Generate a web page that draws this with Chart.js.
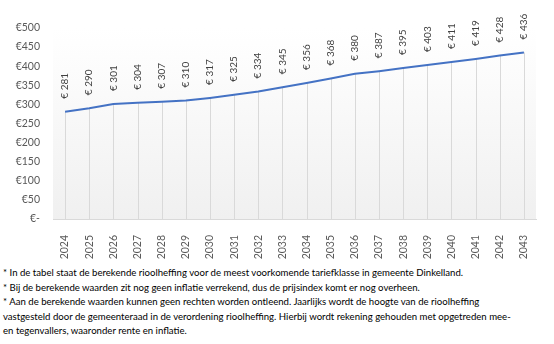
<!DOCTYPE html>
<html>
<head>
<meta charset="utf-8">
<script src="https://cdn.jsdelivr.net/npm/chart.js@4"></script>
<style>
  body { margin: 0; background: #fff; }
  #wrap { position: absolute; left: 0; top: 0; width: 554px; height: 262px; }
  .notes {
    position: absolute;
    left: 3px;
    top: 266px;
    font-family: Lato, sans-serif;
    font-size: 9.6px;
    color: #000;
    line-height: 14.5px;
    white-space: nowrap;
  }
</style>
</head>
<body>
<div id="wrap"><canvas id="myChart"></canvas></div>
<div class="notes">
  * In de tabel staat de berekende rioolheffing voor de meest voorkomende tariefklasse in gemeente Dinkelland.<br>
  * Bij de berekende waarden zit nog geen inflatie verrekend, dus de prijsindex komt er nog overheen.<br>
  * Aan de berekende waarden kunnen geen rechten worden ontleend. Jaarlijks wordt de hoogte van de rioolheffing<br>
  vastgesteld door de gemeenteraad in de verordening rioolheffing. Hierbij wordt rekening gehouden met opgetreden mee-<br>
  en tegenvallers, waaronder rente en inflatie.
</div>
<script>
const years = ["2024", "2025", "2026", "2027", "2028", "2029", "2030", "2031", "2032", "2033",
  "2034", "2035", "2036", "2037", "2038", "2039", "2040", "2041", "2042", "2043"];
const heffing = [281, 290, 301, 304, 307, 310, 317, 325, 334, 345,
  356, 368, 380, 387, 395, 403, 411, 419, 428, 436];
const yMax = 500;
const yStep = 50;

const ctx = document.getElementById("myChart");

// plot area background, light gray fading to white at the top
const plotBackground = {
  id: "plotBackground",
  beforeDraw(chart) {
    const a = chart.chartArea;
    const c = chart.ctx;
    const g = c.createLinearGradient(0, a.top, 0, a.bottom);
    g.addColorStop(0, "rgba(255,255,255,1)");
    g.addColorStop(0.15, "rgba(253,253,253,1)");
    g.addColorStop(1, "rgba(240,240,240,1)");
    c.save();
    c.fillStyle = g;
    c.fillRect(a.left, a.top, a.right - a.left, a.bottom - a.top);
    c.restore();
  },
};

// vertical drop lines from every point down to the axis
const dropLines = {
  id: "dropLines",
  beforeDatasetsDraw(chart) {
    const c = chart.ctx;
    const bottom = chart.scales.y.getPixelForValue(0);
    c.save();
    c.strokeStyle = "#d9d9d9";
    c.lineWidth = 1;
    chart.getDatasetMeta(0).data.forEach((p) => {
      const x = Math.round(p.x) + 0.5;
      c.beginPath();
      c.moveTo(x, p.y);
      c.lineTo(x, bottom);
      c.stroke();
    });
    c.restore();
  },
};

// rotated value labels above the points
const valueLabels = {
  id: "valueLabels",
  afterDatasetsDraw(chart) {
    const c = chart.ctx;
    const values = chart.data.datasets[0].data;
    c.save();
    c.font = "10px Lato, sans-serif";
    c.fillStyle = "#404040";
    c.textAlign = "left";
    c.textBaseline = "middle";
    chart.getDatasetMeta(0).data.forEach((p, i) => {
      c.save();
      c.translate(p.x, p.y - 13);
      c.rotate(-Math.PI / 2);
      c.fillText("€ " + values[i], 0, 0);
      c.restore();
    });
    c.restore();
  },
};

new Chart(ctx, {
  type: "line",
  data: {
    labels: years,
    datasets: [
      {
        data: heffing,
        borderColor: "#4472c4",
        borderWidth: 2,
        pointRadius: 0,
        tension: 0,
      },
    ],
  },
  options: {
    responsive: true,
    maintainAspectRatio: false,
    animation: false,
    layout: { padding: { top: 28, right: 18, left: 0, bottom: 0 } },
    plugins: {
      legend: { display: false },
      tooltip: { enabled: false },
    },
    scales: {
      x: {
        offset: true,
        grid: { display: false, offset: false },
        border: { display: true, color: "#d9d9d9" },
        ticks: {
          minRotation: 90,
          maxRotation: 90,
          padding: 8,
          color: "#595959",
          font: { family: "Lato", size: 10.5 },
        },
        afterFit(scale) {
          scale.height = 43;
        },
      },
      y: {
        min: 0,
        max: yMax,
        grid: { display: false },
        border: { display: false },
        ticks: {
          stepSize: yStep,
          padding: 5,
          color: "#595959",
          font: { family: "Lato", size: 10.5 },
          callback: (v) => (v === 0 ? "€-" : "€" + v),
        },
        afterFit(scale) {
          scale.width = 53;
        },
      },
    },
  },
  plugins: [plotBackground, dropLines, valueLabels],
});
</script>
</body>
</html>
